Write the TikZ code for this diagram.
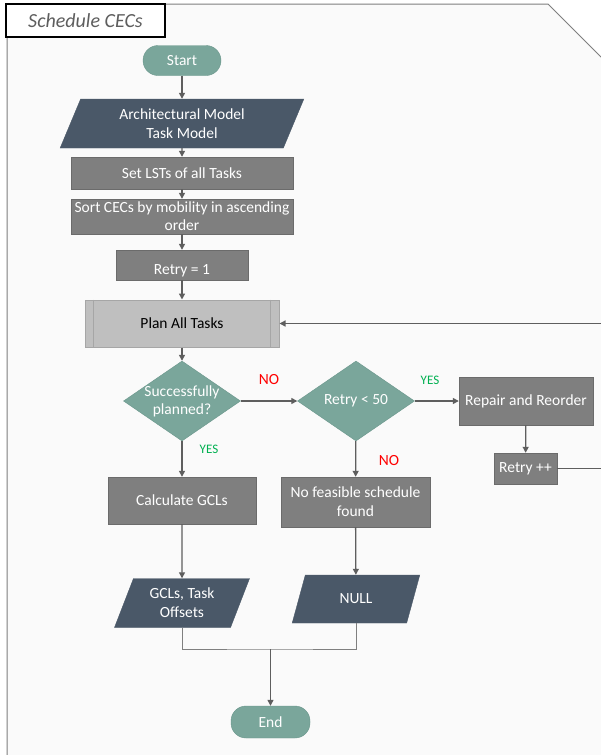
\documentclass[tikz,border=0pt]{standalone}
\usepackage{fontspec}
\setmainfont{Carlito}
\usetikzlibrary{shapes.geometric,arrows.meta,backgrounds}

\definecolor{flowteal}{HTML}{7AA69B}
\definecolor{flowtealedge}{HTML}{6A968B}
\definecolor{flowslate}{HTML}{4A5868}
\definecolor{flowgray}{HTML}{7F7F7F}
\definecolor{flowgrayedge}{HTML}{6B6B6B}
\definecolor{flowlight}{HTML}{BFBFBF}
\definecolor{flowlightedge}{HTML}{A6A6A6}
\definecolor{linkgray}{HTML}{5E5E5E}
\definecolor{yesgreen}{HTML}{00B050}
\definecolor{panelfill}{HTML}{FAFAFA}

\begin{document}
\begin{tikzpicture}[x=1pt,y=-1pt,
  font=\fontsize{15.5}{19}\selectfont,
  term/.style={draw=flowtealedge, fill=flowteal, text=white, rounded corners=15pt,
    minimum width=78pt, minimum height=30pt, inner sep=0pt},
  io/.style={trapezium, trapezium left angle=67, trapezium right angle=113,
    trapezium stretches=true, draw=flowslate, fill=flowslate, text=white,
    align=center, inner sep=0pt},
  proc/.style={draw=flowgrayedge, fill=flowgray, text=white, align=center, inner sep=0pt},
  planbox/.style={draw=flowlightedge, fill=flowlight, text=black, inner sep=0pt,
    line width=1pt},
  dec/.style={diamond, draw=flowtealedge, fill=flowteal, minimum width=117pt,
    minimum height=80pt, inner sep=0pt},
  dectext/.style={text=white, align=center, font=\fontsize{15.5}{18}\selectfont},
  link/.style={draw=linkgray, line width=1.3pt, -{Triangle[length=6pt,width=6pt]}},
  joinline/.style={draw=flowgray, line width=1pt},
  nolbl/.style={text=red, font=\fontsize{15.5}{17}\selectfont},
  yeslbl/.style={text=yesgreen, font=\fontsize{13}{15}\selectfont}]

\useasboundingbox (0,0) rectangle (601,755);
\fill[white] (0,0) rectangle (601,755);

% panel with cut corner
\filldraw[fill=panelfill, draw=flowgray, line width=1pt]
  (7,4) -- (548,4) -- (605,61) -- (605,760) -- (7,760) -- cycle;
% title tab
\node[draw=black, line width=1.3pt, fill=white, minimum width=159pt, minimum height=33pt,
  inner sep=0pt, font=\fontsize{20}{22}\selectfont\itshape, text=linkgray]
  (title) at (85.5,20.5) {Schedule CECs};

% nodes
\node[term] (start) at (182,60.5) {Start};
\node[io, minimum width=244pt, minimum height=49pt] (inp) at (182,123.5)
  {Architectural Model\\Task Model};
\node[proc, minimum width=222pt, minimum height=32pt] (lst) at (182,173)
  {Set LSTs of all Tasks};
\node[proc, minimum width=222pt, minimum height=35pt] (sort) at (182,216.5)
  {Sort CECs by mobility in ascending\\[-1pt]order};
\node[proc, minimum width=132pt, minimum height=30pt, text height=18pt, text depth=0pt]
  (r1) at (182,265) {Retry = 1};
\node[planbox, minimum width=194pt, minimum height=47pt] (plan) at (182,323.5)
  {Plan All Tasks};
\draw[flowlightedge, line width=1pt]
  ([xshift=9pt]plan.north west) -- ([xshift=9pt]plan.south west)
  ([xshift=-9pt]plan.north east) -- ([xshift=-9pt]plan.south east);

\node[dec] (d1) at (182,401) {};
\node[dectext] (d1t) at (d1.center) {Successfully\\planned?};
\node[dec] (d2) at (356,401) {};
\node[dectext] (d2t) at (d2.center) {Retry < 50};

\node[proc, minimum width=134pt, minimum height=48pt] (rep) at (526,401)
  {Repair and Reorder};
\node[proc, minimum width=63pt, minimum height=31pt] (rpp) at (525.5,468.5) {Retry ++};
\node[proc, minimum width=148pt, minimum height=47pt] (calc) at (182,500.5)
  {Calculate GCLs};
\node[proc, minimum width=149pt, minimum height=50pt] (nf) at (355.5,502)
  {No feasible schedule\\found};
\node[io, minimum width=136pt, minimum height=49pt] (out) at (182,603)
  {GCLs, Task\\Offsets};
\node[io, minimum width=128pt, minimum height=48pt] (nul) at (356,599) {NULL};
\node[term, minimum width=79pt, minimum height=32pt] (end) at (270.5,722) {End};

\coordinate (loopA) at (604,468.5);
\coordinate (loopB) at (604,323.5);
\coordinate (join) at (270.5,649);

% connectors
\draw[link] (start) -- (inp);
\draw[link] (inp) -- (lst);
\draw[link] (lst) -- (sort);
\draw[link] (sort) -- (r1);
\draw[link] (r1) -- (plan);
\draw[link] (plan) -- (d1);
\draw[link] (d1) -- (d2);
\draw[link] (d2) -- (rep);
\draw[link] (d1) -- (calc);
\draw[link] (d2) -- (nf);
\draw[link] (rep) -- (rpp);
\draw[link] (calc) -- (out);
\draw[link] (nf) -- (nul);
\draw[link] (rpp.east) -- (loopA) -- (loopB) -- (plan.east);
\draw[joinline] (out.south) |- (join) -| (nul.south);
\draw[link] (join) -- (end);

% branch labels
\node[nolbl] (no1) at (269,380) {NO};
\node[yeslbl] (yes1) at (430,380) {YES};
\node[yeslbl] (yes2) at (209,449) {YES};
\node[nolbl] (no2) at (389,461) {NO};
\end{tikzpicture}
\end{document}
